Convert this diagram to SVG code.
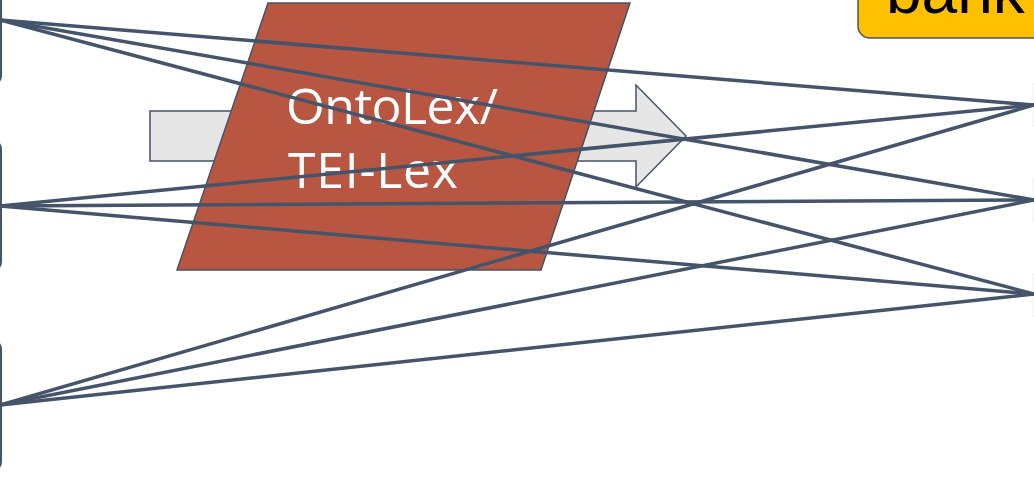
<svg xmlns="http://www.w3.org/2000/svg" width="1034" height="480" viewBox="0 0 1034 480">
<style>
.node{fill:#FFFFFF;stroke:#44546A;stroke-width:2}
.rnode{fill:#FFFFFF;stroke:#F0F0F0;stroke-width:1}
.conn{stroke:#44546A;stroke-width:3.5;fill:none;stroke-linecap:round}
.lbl{font-family:"Open Sans","Noto Sans",sans-serif;font-size:50px;fill:#FFFFFF}
</style>
<rect width="1034" height="480" fill="#FFFFFF"/>
<g id="left-node-1"><rect class="node" x="-300" y="-50" width="301" height="134" rx="8"/></g>
<g id="left-node-2"><rect class="node" x="-300" y="141" width="301" height="129" rx="8"/></g>
<g id="left-node-3"><rect class="node" x="-300" y="341" width="301" height="129" rx="8"/></g>
<g id="right-node-1"><rect class="rnode" x="1033" y="80" width="300" height="50" rx="6"/></g>
<g id="right-node-2"><rect class="rnode" x="1033" y="175" width="300" height="50" rx="6"/></g>
<g id="right-node-3"><rect class="rnode" x="1033" y="270" width="300" height="50" rx="6"/></g>
<g id="bank">
<rect x="858" y="-60" width="220" height="98" rx="12" fill="#FFC000" stroke="#44546A" stroke-width="1.5"/>
<text x="886" y="13" font-family="'Liberation Sans',Arial,sans-serif" font-size="64" fill="#000000">bank</text>
</g>
<g id="arrow">
<polygon points="150,111 636,111 636,85 686,136 636,187 636,161 150,161" fill="#E7E6E6" stroke="#44546A" stroke-width="1.5"/>
</g>
<g id="ontolex">
<polygon points="268,3 630,3 541,270 177,270" fill="#B85641" stroke="#44546A" stroke-width="1.5"/>
<text class="lbl" x="286" y="123.5" textLength="212">OntoLex/</text>
<text class="lbl" x="288" y="187.5" textLength="170">TEI-Lex</text>
</g>
<g id="connectors">
<line class="conn" x1="0" y1="20" x2="1034" y2="105"/>
<line class="conn" x1="0" y1="20" x2="1034" y2="200"/>
<line class="conn" x1="0" y1="20" x2="1034" y2="294"/>
<line class="conn" x1="0" y1="206" x2="1034" y2="105"/>
<line class="conn" x1="0" y1="206" x2="1034" y2="200"/>
<line class="conn" x1="0" y1="206" x2="1034" y2="294"/>
<line class="conn" x1="0" y1="405" x2="1034" y2="105"/>
<line class="conn" x1="0" y1="405" x2="1034" y2="200"/>
<line class="conn" x1="0" y1="405" x2="1034" y2="294"/>
</g>
</svg>
